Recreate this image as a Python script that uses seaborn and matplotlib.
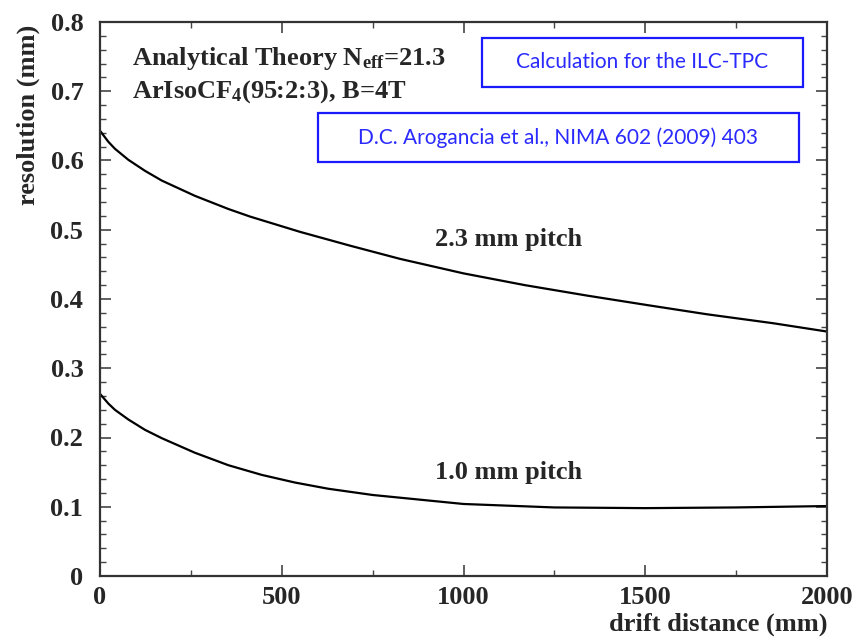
import matplotlib
matplotlib.use("Agg")
import matplotlib.pyplot as plt
from matplotlib.ticker import MultipleLocator, FuncFormatter
from matplotlib.patches import Rectangle
import seaborn as sns
import pandas as pd

# Data
drift_23 = [0, 23, 41, 78, 124, 170, 261, 353, 413, 550, 688, 825, 1000, 1169, 1339, 1508, 1669, 1852, 2000]
res_23 = [0.643, 0.627, 0.617, 0.601, 0.585, 0.571, 0.549, 0.530, 0.519, 0.497, 0.477, 0.458, 0.437, 0.420,
          0.405, 0.391, 0.378, 0.365, 0.353]
drift_10 = [0, 23, 41, 78, 124, 170, 261, 353, 445, 536, 628, 750, 1000, 1250, 1500, 1750, 2000]
res_10 = [0.263, 0.249, 0.240, 0.226, 0.211, 0.199, 0.178, 0.160, 0.146, 0.135, 0.126, 0.117, 0.104, 0.099,
          0.098, 0.099, 0.101]
series_labels = ["2.3 mm pitch", "1.0 mm pitch"]

df = pd.concat([
    pd.DataFrame({"drift": drift_23, "res": res_23, "pitch": series_labels[0]}),
    pd.DataFrame({"drift": drift_10, "res": res_10, "pitch": series_labels[1]}),
])

sns.set_style("ticks")
plt.rcParams["font.family"] = ["Liberation Serif", "DejaVu Serif"]
plt.rcParams["mathtext.fontset"] = "custom"
plt.rcParams["mathtext.rm"] = "Liberation Serif:bold"
plt.rcParams["mathtext.bf"] = "Liberation Serif:bold"
plt.rcParams["mathtext.it"] = "Liberation Serif:bold"

FS = 19

fig = plt.figure(figsize=(8.55, 6.37), dpi=100)
ax = fig.add_axes([100/855, 1-576/637, 727/855, 554/637])

sns.lineplot(data=df, x="drift", y="res", hue="pitch", palette=["black", "black"],
             linewidth=1.6, legend=False, ax=ax, estimator=None, sort=True)

ax.set_xlim(0, 2000)
ax.set_ylim(0, 0.8)
ax.xaxis.set_major_locator(MultipleLocator(500))
ax.xaxis.set_minor_locator(MultipleLocator(250))
ax.yaxis.set_major_locator(MultipleLocator(0.1))
ax.yaxis.set_minor_locator(MultipleLocator(0.02))
ax.yaxis.set_major_formatter(FuncFormatter(lambda v, p: "0" if abs(v) < 1e-9 else f"{v:.1f}"))
ax.tick_params(which="both", direction="in", top=True, right=True, color="#444444")
ax.tick_params(which="major", length=8, width=1.2, labelsize=FS)
ax.tick_params(axis="y", which="major", pad=12)
ax.tick_params(axis="x", which="major", pad=7)
ax.tick_params(which="minor", length=4, width=1.0)
for lab in ax.get_xticklabels() + ax.get_yticklabels():
    lab.set_fontweight("bold")
for s in ax.spines.values():
    s.set_linewidth(1.6)
    s.set_color("#333333")

ax.set_xlabel("drift distance (mm)", fontsize=FS, fontweight="bold")
ax.set_ylabel("resolution (mm)", fontsize=FS, fontweight="bold")
ax.xaxis.set_label_coords(1.0, -0.1075)
ax.xaxis.label.set_horizontalalignment("right")
ax.xaxis.label.set_verticalalignment("bottom")
ax.yaxis.set_label_coords(-0.099, 0.995)
ax.yaxis.label.set_verticalalignment("center")
ax.yaxis.label.set_horizontalalignment("right")

ax.text(87, 0.747, r"Analytical Theory N$_{\mathrm{eff}}$=21.3", fontsize=FS, fontweight="bold", va="center")
ax.text(87, 0.699, r"ArIsoCF$_{\mathrm{4}}$(95:2:3), B=4T", fontsize=FS, fontweight="bold", va="center")
ax.text(1125, 0.486, series_labels[0], fontsize=FS, fontweight="bold", ha="center", va="center")
ax.text(1125, 0.15, series_labels[1], fontsize=FS, fontweight="bold", ha="center", va="center")

# Blue boxes
def to_data(px, py):
    return ((px - 100) / 727 * 2000, (576 - py) / 554 * 0.8)

for (l, t, r, b, txt) in [(482, 38, 803, 87, "Calculation for the ILC-TPC"),
                           (318, 113, 799, 162, "D.C. Arogancia et al., NIMA 602 (2009) 403")]:
    x0, y0 = to_data(l, b)
    x1, y1 = to_data(r, t)
    ax.add_patch(Rectangle((x0, y0), x1 - x0, y1 - y0, fill=False, edgecolor="#1a1aff", linewidth=1.6))
    ax.text((x0 + x1) / 2, (y0 + y1) / 2, txt, color="#2a2aff",
            fontsize=15, ha="center", va="center", family=["Lato", "DejaVu Sans"])

fig.savefig("out.png", dpi=100)
